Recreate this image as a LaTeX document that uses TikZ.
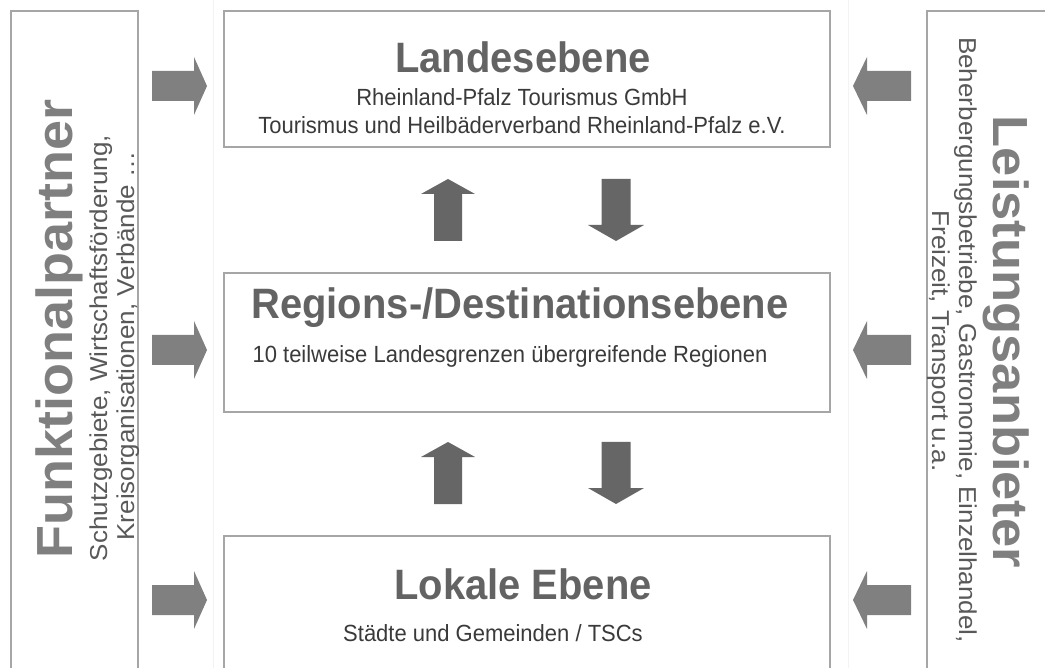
\documentclass[tikz,border=0pt]{standalone}
\usepackage{graphicx}
\usepackage{fontspec}
\setmainfont{Liberation Sans}
\newfontfamily\narrowfont[FakeStretch=0.94]{Liberation Sans}
\definecolor{boxgray}{HTML}{A6A6A6}
\definecolor{arrowgray}{HTML}{808080}
\definecolor{darkarrow}{HTML}{666666}
\definecolor{headgray}{HTML}{636363}
\definecolor{sideheadgray}{HTML}{7F7F7F}
\definecolor{subgray}{HTML}{3A3A3A}
\definecolor{sidesubgray}{HTML}{595959}
\definecolor{faint}{HTML}{F3F3F3}
\newcommand{\squash}[1]{\scalebox{1}[0.94]{#1}}
\begin{document}
\begin{tikzpicture}[x=1pt,y=-1pt,
  frame/.style={draw=boxgray,line width=1.8pt},
  sidearrow/.style={fill=arrowgray},
  midarrow/.style={fill=darkarrow},
  midhead/.style={font=\narrowfont\fontsize{42.5}{46}\selectfont\bfseries,text=headgray,inner sep=0pt,anchor=base},
  midsub/.style={font=\narrowfont\fontsize{23.4}{26}\selectfont,text=subgray,inner sep=0pt,anchor=base},
  sidehead/.style={font=\fontsize{54}{58}\selectfont\bfseries,text=sideheadgray,inner sep=0pt,anchor=base},
  sidesub/.style={font=\fontsize{26}{28}\selectfont,text=sidesubgray,inner sep=0pt,anchor=base},
  rarr/.pic={\fill[sidearrow] (-27.5,-15) -- (14.5,-15) -- (14.5,-29) -- (27.5,0) -- (14.5,29) -- (14.5,15) -- (-27.5,15) -- cycle;},
  larr/.pic={\fill[sidearrow] (29,-15) -- (-15,-15) -- (-15,-29) -- (-29,0) -- (-15,29) -- (-15,15) -- (29,15) -- cycle;},
  uarr/.pic={\fill[midarrow] (-14,31) -- (-14,-16) -- (-27,-16) -- (0,-31) -- (27,-16) -- (14,-16) -- (14,31) -- cycle;},
  darr/.pic={\fill[midarrow] (-14.5,-31) -- (-14.5,15) -- (-28,15) -- (0,31) -- (28,15) -- (14.5,15) -- (14.5,-31) -- cycle;}
]
\useasboundingbox (0,0) rectangle (1045,668);
\clip (0,0) rectangle (1045,668);
\fill[white] (0,0) rectangle (1045,668);
% faint background panel edges
\draw[faint,line width=0.8pt] (213,0) -- (213,668) (848,0) -- (848,668);

% side frames
\draw[frame] (11,680) -- (11,11) -- (138,11) -- (138,680);
\draw[frame] (1060,11) -- (927,11) -- (927,680);

% middle frames
\draw[frame] (224,11) rectangle (830,147);
\draw[frame] (224,273) rectangle (830,412);
\draw[frame] (224,680) -- (224,536) -- (830,536) -- (830,680);

% middle texts
\node[midhead] (land) at (523,73) {Landesebene};
\node[midsub] (land1) at (522,106) {Rheinland-Pfalz Tourismus GmbH};
\node[midsub] (land2) at (522,134) {Tourismus und Heilbäderverband Rheinland-Pfalz e.V.};
\node[midhead] (reg) at (520,319) {Regions-/Destinationsebene};
\node[midsub] (reg1) at (510,363) {10 teilweise Landesgrenzen übergreifende Regionen};
\node[midhead] (lok) at (523,599) {Lokale Ebene};
\node[midsub] (lok1) at (493,641) {Städte und Gemeinden / TSCs};

% left side texts
\node[sidehead,rotate=90] (fp) at (72,329) {\squash{Funktionalpartner}};
\node[sidesub,rotate=90] (fp1) at (107,348) {\squash{Schutzgebiete, Wirtschaftsförderung,}};
\node[sidesub,rotate=90] (fp2) at (134,346) {\squash{Kreisorganisationen, Verbände \ldots}};

% right side texts
\node[sidehead,rotate=-90,font=\fontsize{52.5}{56}\selectfont\bfseries] (la) at (993,342) {\squash{Leistungsanbieter}};
\node[sidesub,rotate=-90] (la1) at (959,340) {\squash{Beherbergungsbetriebe, Gastronomie, Einzelhandel,}};
\node[sidesub,rotate=-90] (la2) at (932,341) {\squash{Freizeit, Transport u.a.}};

% side arrows
\pic at (179.5,86) {rarr};
\pic at (179.5,350) {rarr};
\pic at (179.5,600) {rarr};
\pic at (882,86) {larr};
\pic at (882,350) {larr};
\pic at (882,600) {larr};

% vertical arrows
\pic at (448,210) {uarr};
\pic at (616,210) {darr};
\pic at (448,473) {uarr};
\pic at (616,473) {darr};
\end{tikzpicture}
\end{document}
